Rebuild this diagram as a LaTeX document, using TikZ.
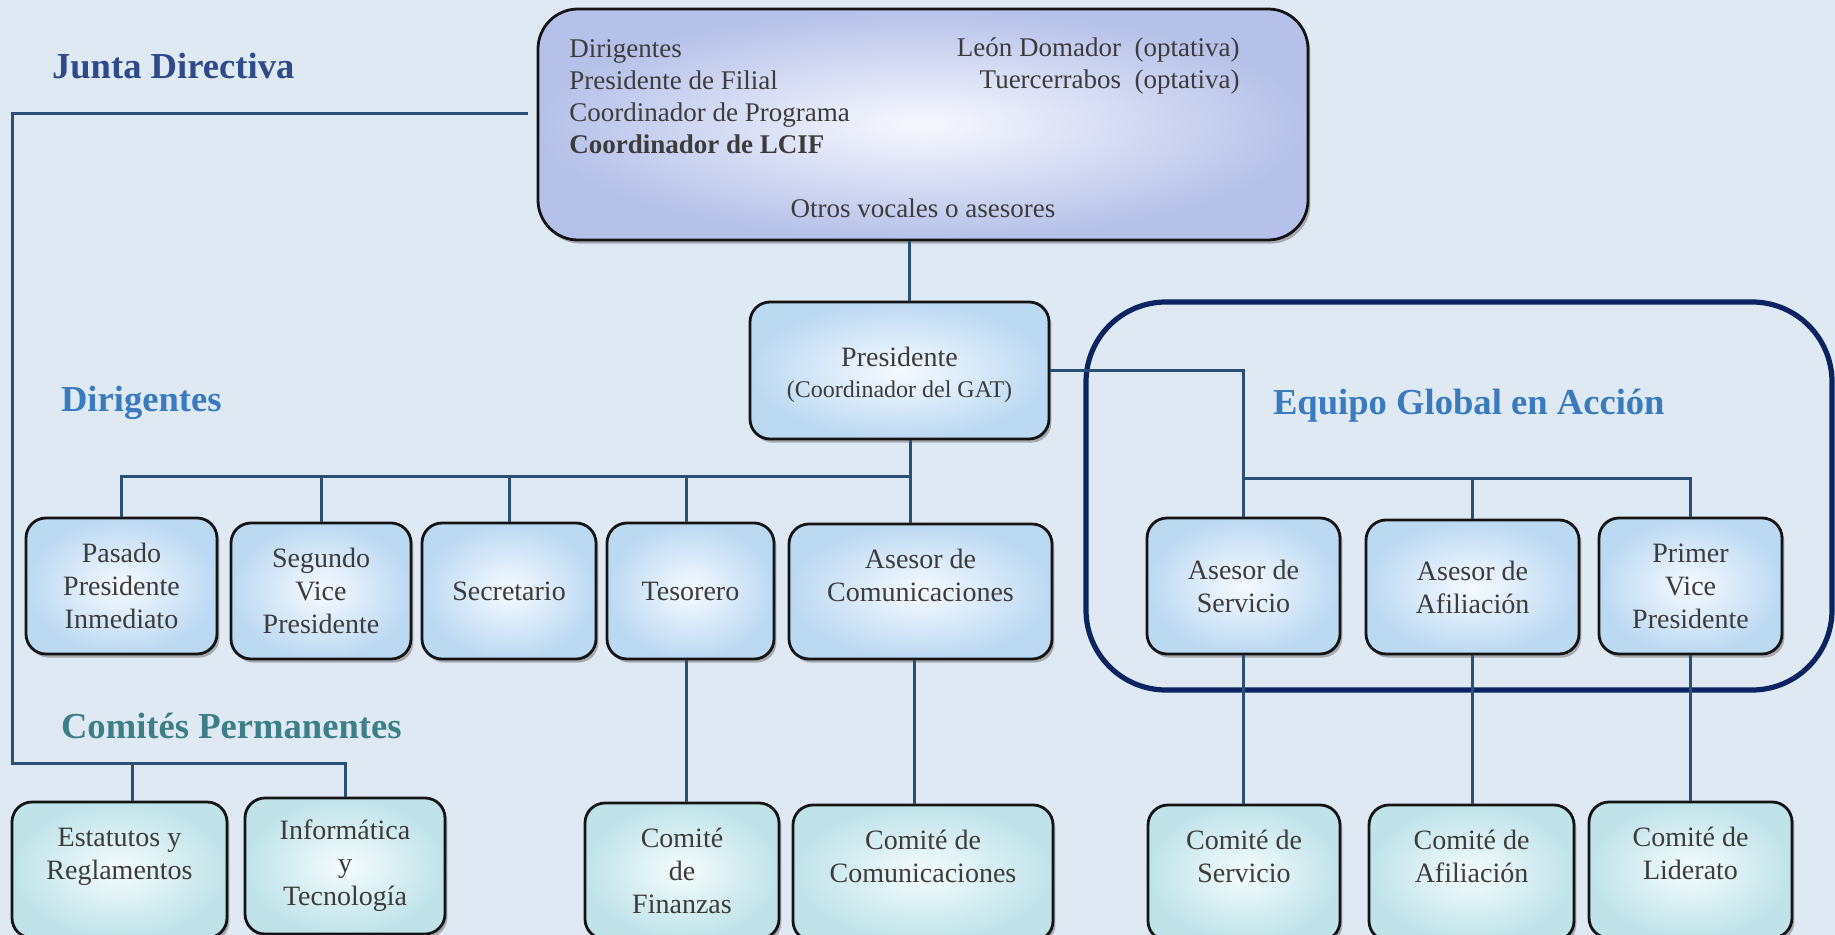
\documentclass[tikz,border=0pt]{standalone}
\usepackage{fontspec}
\setmainfont{Liberation Serif}
\usetikzlibrary{shadows}
\definecolor{bg}{HTML}{DFE9F4}
\definecolor{txt}{HTML}{3C3C3C}
\definecolor{boxline}{HTML}{141414}
\definecolor{ubluo}{HTML}{BCD9F2}
\definecolor{ubluei}{HTML}{F6FAFF}
\definecolor{topo}{HTML}{B6C1E9}
\definecolor{topi}{HTML}{F7F8FE}
\definecolor{tealo}{HTML}{BFE3E9}
\definecolor{teali}{HTML}{F5FCFD}
\definecolor{tjunta}{HTML}{2E4A8A}
\definecolor{tdir}{HTML}{3A7BBF}
\definecolor{tcom}{HTML}{3D7F87}
\definecolor{conn}{HTML}{2A5078}
\definecolor{egac}{HTML}{0C2461}
\tikzset{
  basebox/.style={rounded corners=10pt, draw=boxline, line width=1.4pt, align=center,
    text=txt, font=\fontsize{14pt}{16.5pt}\selectfont, inner sep=2pt,
    drop shadow={shadow xshift=1.2pt, shadow yshift=-1.8pt, opacity=0.6}},
  ubox/.style={basebox, inner color=ubluei, outer color=ubluo},
  tbox/.style={basebox, inner color=teali, outer color=tealo},
  topbox/.style={basebox, rounded corners=20pt, inner color=topi, outer color=topo},
  title/.style={anchor=west, font=\bfseries\fontsize{18.3pt}{22pt}\selectfont},
  conline/.style={draw=conn, line width=1.5pt},
  egabox/.style={draw=egac, line width=2.6pt, rounded corners=40pt},
  toptext/.style={text=txt, font=\fontsize{13.5pt}{16pt}\selectfont, inner sep=0pt}
}
\begin{document}
\begin{tikzpicture}[x=0.5pt,y=-0.5pt]
\useasboundingbox (0,0) rectangle (1835,935);
\clip (0,0) rectangle (1835,935);
\fill[bg] (0,0) rectangle (1835,935);

% Equipo Global en Accion frame
\node[egabox, minimum width=373pt, minimum height=194pt] (ega) at (1459,496) {};

% titles
\node[title, text=tjunta] (tjd) at (45,66) {Junta Directiva};
\node[title, text=tdir] (tdi) at (54,403) {Dirigentes};
\node[title, text=tdir] (tega) at (1266,406) {Equipo Global en Acción};
\node[title, text=tcom] (tcp) at (54,726) {Comités Permanentes};

% top box
\node[topbox, minimum width=385pt, minimum height=115.5pt] (jd) at (923,124.5) {};
\node[toptext, anchor=west, align=left] (jdleft) at (569,96.5)
  {Dirigentes\\Presidente de Filial\\Coordinador de Programa\\\textbf{Coordinador de LCIF}};
\node[toptext, anchor=east, align=right] (jdright) at (1240,65.5)
  {León Domador~ (optativa)\\Tuercerrabos~ (optativa)};
\node[toptext] (jdbot) at (923,208) {Otros vocales o asesores};

% presidente
\node[ubox, minimum width=149.5pt, minimum height=68.5pt] (pres) at (899.5,370.5)
  {\rule{0pt}{14.5pt}Presidente\\[-1pt]{\fontsize{12pt}{14pt}\selectfont(Coordinador del GAT)}};

% dirigentes row
\node[ubox, minimum width=95.5pt, minimum height=68pt] (pas) at (121.5,586) {Pasado\\Presidente\\Inmediato};
\node[ubox, minimum width=90pt, minimum height=68pt] (seg) at (321,591) {Segundo\\Vice\\Presidente};
\node[ubox, minimum width=87pt, minimum height=68pt] (sec) at (509,591) {Secretario};
\node[ubox, minimum width=83.5pt, minimum height=68pt] (tes) at (690.5,591) {Tesorero};
\node[ubox, minimum width=131.5pt, minimum height=67.5pt] (ascom) at (920.5,591.5) {Asesor de\\Comunicaciones\\\mbox{}};

% EGA row
\node[ubox, minimum width=96.5pt, minimum height=68pt] (asserv) at (1243.5,586) {Asesor de\\Servicio};
\node[ubox, minimum width=106.5pt, minimum height=67pt] (asafi) at (1472.5,587) {Asesor de\\Afiliación};
\node[ubox, minimum width=91.5pt, minimum height=68pt] (pvp) at (1690.5,586) {Primer\\Vice\\Presidente};

% committees row
\node[tbox, minimum width=107.5pt, minimum height=68pt] (est) at (119.5,870) {Estatutos y\\Reglamentos\\\mbox{}};
\node[tbox, minimum width=100pt, minimum height=68pt] (inf) at (345,866) {Informática\\y\\Tecnología};
\node[tbox, minimum width=97pt, minimum height=68pt] (cfin) at (682,871) {Comité\\de\\Finanzas};
\node[tbox, minimum width=130pt, minimum height=68pt] (ccom) at (923,873) {Comité de\\Comunicaciones\\\mbox{}};
\node[tbox, minimum width=96pt, minimum height=68pt] (cserv) at (1244,873) {Comité de\\Servicio\\\mbox{}};
\node[tbox, minimum width=102.5pt, minimum height=68pt] (cafi) at (1471.5,873) {Comité de\\Afiliación\\\mbox{}};
\node[tbox, minimum width=101.5pt, minimum height=68pt] (clid) at (1690.5,870) {Comité de\\Liderato\\\mbox{}};

% connectors
\coordinate (cpbus) at (12,763);
\coordinate (dbus) at (910,476);
\coordinate (ebus) at (1688,478);

% Junta Directiva line to comites permanentes
\draw[conline] ([xshift=-4.5pt,yshift=5.25pt]jd.west) -| (cpbus) -| (inf.north);
\draw[conline] ([xshift=6.5pt]est.north |- cpbus) -- ([xshift=6.5pt]est.north);

% top box to presidente
\draw[conline] ([xshift=-7pt]jd.south) -- ([xshift=-7pt]jd.south |- pres.north);

% dirigentes bus
\draw[conline] ([xshift=5.25pt]pres.south) -- ([xshift=5.25pt]pres.south |- ascom.north);
\draw[conline] (pas.north) |- (dbus);
\draw[conline] (seg.north |- dbus) -- (seg.north);
\draw[conline] (sec.north |- dbus) -- (sec.north);
\draw[conline] ([xshift=-2pt]tes.north |- dbus) -- ([xshift=-2pt]tes.north);

% presidente to EGA
\draw[conline] (pres.east) -| (asserv.north);
\draw[conline] (asserv.north |- ebus) -| (pvp.north);
\draw[conline] (asafi.north |- ebus) -- (asafi.north);

% down to committees
\draw[conline] ([xshift=-2pt]tes.south) -- ([xshift=-2pt]tes.south |- cfin.north);
\draw[conline] ([xshift=-3pt]ascom.south) -- ([xshift=-3pt]ascom.south |- ccom.north);
\draw[conline] (asserv.south) -- (asserv.south |- cserv.north);
\draw[conline] (asafi.south) -- (asafi.south |- cafi.north);
\draw[conline] (pvp.south) -- (pvp.south |- clid.north);
\end{tikzpicture}
\end{document}
